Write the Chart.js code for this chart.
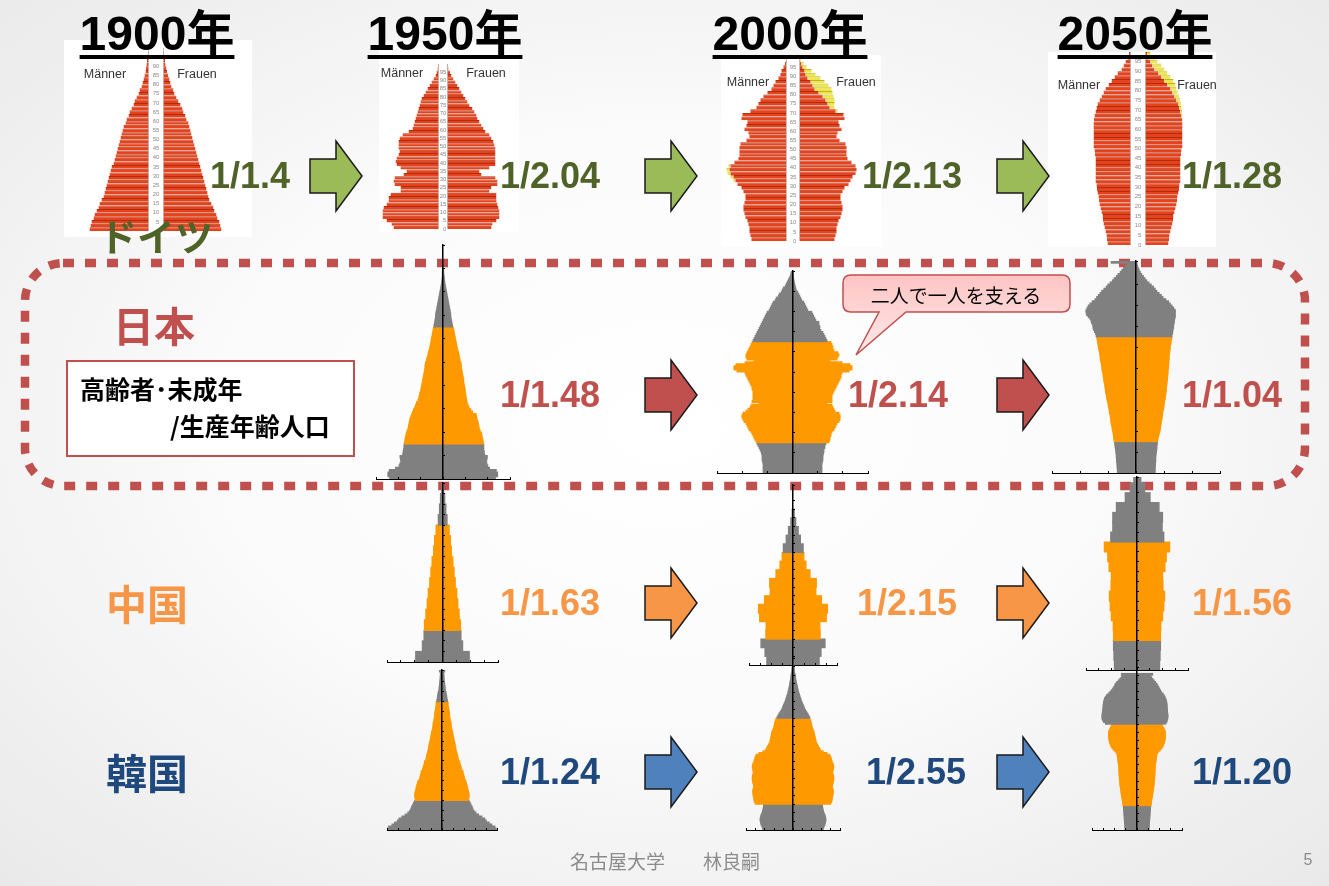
<!DOCTYPE html>
<html><head><meta charset="utf-8">
<script src="https://cdn.jsdelivr.net/npm/chart.js@4.4.1/dist/chart.umd.min.js"></script>
<style>
html,body{margin:0;padding:0;background:#fff;}
#slide{position:relative;width:1329px;height:886px;overflow:hidden;
 background:radial-gradient(ellipse 72% 72% at 50% 48%,#ffffff 0%,#fbfbfb 45%,#e9e9e9 100%);
 font-family:"Liberation Sans",Arial,sans-serif;}
.abs{position:absolute;white-space:nowrap;line-height:1;}
.c{transform:translate(-50%,-50%);}
.l{transform:translateY(-50%);}
.title{font-size:48px;font-weight:bold;color:#000;text-decoration:underline;text-decoration-thickness:4px;text-underline-offset:5px;font-family:"Liberation Sans","Noto Sans CJK JP",sans-serif;}
.ratio{font-size:36px;font-weight:bold;font-family:"Liberation Sans",Arial,sans-serif;}
.jp{font-family:"Noto Sans CJK JP",sans-serif;}
.big{font-size:41px;font-weight:bold;}
.mf{font-size:12.5px;color:#333;font-family:"Liberation Sans",Arial,sans-serif;}
.wb{position:absolute;background:#fff;}
</style></head><body>
<div id="slide">
 <div class="wb" style="left:64px;top:40px;width:188px;height:197px"></div>
 <div class="wb" style="left:379px;top:42px;width:140px;height:190px"></div>
 <div class="wb" style="left:721px;top:55px;width:160px;height:192px"></div>
 <div class="wb" style="left:1048px;top:52px;width:168px;height:195px"></div>

 <svg class="abs" style="left:0;top:0" width="1329" height="886">
  <rect x="25" y="263" width="1280" height="223" rx="38" ry="38" fill="none" stroke="#C0504D" stroke-width="8.5" stroke-dasharray="11 11"/>
  <g stroke="#1a1a1a" stroke-width="1.5" stroke-linejoin="miter">
   <polygon fill="#9BBB59" points="310,159 336,159 336,141 362,176 336,211 336,193 310,193"/>
   <polygon fill="#9BBB59" points="645,159 671,159 671,141 697,176 671,211 671,193 645,193"/>
   <polygon fill="#9BBB59" points="997,159 1023,159 1023,141 1049,176 1023,211 1023,193 997,193"/>
   <polygon fill="#C0504D" points="645,378 671,378 671,360 697,395 671,430 671,412 645,412"/>
   <polygon fill="#C0504D" points="997,378 1023,378 1023,360 1049,395 1023,430 1023,412 997,412"/>
   <polygon fill="#F79646" points="645,586 671,586 671,568 697,603 671,638 671,620 645,620"/>
   <polygon fill="#F79646" points="997,586 1023,586 1023,568 1049,603 1023,638 1023,620 997,620"/>
   <polygon fill="#4F81BD" points="645,755 671,755 671,737 697,772 671,807 671,789 645,789"/>
   <polygon fill="#4F81BD" points="997,755 1023,755 1023,737 1049,772 1023,807 1023,789 997,789"/>
  </g>
 </svg>

 <div id="charts" class="abs" style="left:0;top:0;width:1329px;height:886px"></div>

 <svg class="abs" style="left:0;top:0" width="1329" height="886">
  <defs><linearGradient id="pk" x1="0" y1="0" x2="0" y2="1"><stop offset="0" stop-color="#FFC4C4"/><stop offset="1" stop-color="#FFEAEA"/></linearGradient></defs>
  <path d="M851 275 H1062 Q1070 275 1070 283 V304 Q1070 312 1062 312 H906 L856 355 L879 312 H851 Q843 312 843 304 V283 Q843 275 851 275 Z" fill="url(#pk)" stroke="#C0504D" stroke-width="1.5"/>
 </svg>

 <div class="abs c title" style="left:157px;top:34px">1900年</div>
 <div class="abs c title" style="left:445px;top:34px">1950年</div>
 <div class="abs c title" style="left:790px;top:34px">2000年</div>
 <div class="abs c title" style="left:1135px;top:34px">2050年</div>

 <div class="abs c mf" style="left:105px;top:74px">Männer</div>
 <div class="abs c mf" style="left:197px;top:74px">Frauen</div>
 <div class="abs c mf" style="left:402px;top:73px">Männer</div>
 <div class="abs c mf" style="left:486px;top:73px">Frauen</div>
 <div class="abs c mf" style="left:748px;top:82px">Männer</div>
 <div class="abs c mf" style="left:856px;top:82px">Frauen</div>
 <div class="abs c mf" style="left:1079px;top:85px">Männer</div>
 <div class="abs c mf" style="left:1197px;top:85px">Frauen</div>

 <div class="abs l ratio" style="left:210px;top:176px;color:#4F6228">1/1.4</div>
 <div class="abs l ratio" style="left:500px;top:176px;color:#4F6228">1/2.04</div>
 <div class="abs l ratio" style="left:862px;top:176px;color:#4F6228">1/2.13</div>
 <div class="abs l ratio" style="left:1182px;top:176px;color:#4F6228">1/1.28</div>
 <div class="abs l ratio" style="left:500px;top:395px;color:#C0504D">1/1.48</div>
 <div class="abs l ratio" style="left:848px;top:395px;color:#C0504D">1/2.14</div>
 <div class="abs l ratio" style="left:1182px;top:395px;color:#C0504D">1/1.04</div>
 <div class="abs l ratio" style="left:500px;top:603px;color:#F79646">1/1.63</div>
 <div class="abs l ratio" style="left:857px;top:603px;color:#F79646">1/2.15</div>
 <div class="abs l ratio" style="left:1192px;top:603px;color:#F79646">1/1.56</div>
 <div class="abs l ratio" style="left:500px;top:772px;color:#1F497D">1/1.24</div>
 <div class="abs l ratio" style="left:866px;top:772px;color:#1F497D">1/2.55</div>
 <div class="abs l ratio" style="left:1192px;top:772px;color:#1F497D">1/1.20</div>

 <div class="abs c jp" style="left:156px;top:235px;font-size:38px;font-weight:bold;color:#4F6228">ドイツ</div>
 <div class="abs c jp big" style="left:154px;top:324px;color:#C0504D">日本</div>
 <div class="abs c jp big" style="left:147px;top:602px;color:#F79646">中国</div>
 <div class="abs c jp big" style="left:147px;top:771px;color:#1F497D">韓国</div>

 <div class="abs" style="left:66px;top:360px;width:285px;height:93px;background:#fff;border:2px solid #C0504D;"></div>
 <div class="abs l jp" style="left:80px;top:388px;font-size:25px;font-weight:bold;color:#000">高齢者･未成年</div>
 <div class="abs l jp" style="left:170px;top:425px;font-size:25px;font-weight:bold;color:#000">/生産年齢人口</div>

 <div class="abs c jp" style="left:956px;top:294px;font-size:19px;color:#000">二人で一人を支える</div>

 <div class="abs c jp" style="left:665px;top:860px;font-size:19px;color:#8c8c8c">名古屋大学　　林良嗣</div>
 <div class="abs c" style="left:1308px;top:860px;font-size:16px;color:#8c8c8c">5</div>
</div>

<script>
// ---------- categories ----------
const deAgeGroups = [0,2,4,6,8,10,12,14,16,18,20,22,24,26,28,30,32,34,36,38,40,42,44,46,48,50,52,54,56,58,60,62,64,66,68,70,72,74,76,78,80,82,84,86,88,90,92,94,96,98];
const singleAges = Array.from({length: 101}, (_, i) => i);
const fiveYearAges = [0,5,10,15,20,25,30,35,40,45,50,55,60,65,70,75,80,85,90,95];

// ---------- Germany (per-year values, 2-year groups) ----------
const de1900Male   = [59,58,57,55,54,52,50,49,47,45,44,43,42,41,40,39,38,37,35,34,33,32,31,30,29,28,27,26,25,23,22,20,19,17,15,14,12,10,9,7,6,5,4,3,2.5,2,1.5,1,0.6,0.3];
const de1900Female = [58,57,56,54,53,51,50,48,46,45,44,43,42,41,40,39,38,37,36,35,34,33,32,31,30,29,28,27,26,25,23,22,20,19,17,15,13,11,10,8,7,6,4.5,3.5,3,2,1.5,1,0.6,0.3];
const de1950Male   = [45,47,52,56,56,56,55,52,50,50,48,38,38,44,45,44,35,32,38,42,43,42,40,39,40,40,40,39,36,30,26,25,24,23,22,21,20,19,18,17,15,13,11,9,7,5,3,2,1,0.5];
const de1950Female = [44,45,49,52,52,52,51,50,49,49,49,42,44,50,50,48,34,32,42,48,48,48,48,48,48,47,46,44,42,38,36,34,32,30,29,27,25,22,20,18,16,14,12,10,8,6,4,2.5,1,0.5];
const de2000Male   = [35,36,37,37,38,39,41,42,43,43,42,41,41,43,45,49,53,56,59,60,58,52,48,47,47,47,46,40,37,38,42,40,39,45,44,36,30,28,26,23,19,15,13,11,8,6,5,3,1.5,0.5];
const de2000Female = [35,36,37,37,38,39,41,42,43,43,42,41,41,43,45,49,51,53,56,57,56,52,48,47,47,47,46,40,37,38,42,40,39,45,44,38,35,35,35,34,33,32,29,25,21,16,12,7,4,1.5];
const de2050Male   = [23,23.5,24,25,26,27,27.5,28,29,30,31,31.5,32,33,33.5,34,35,35,35,35,35,35,35,35.5,36,37,37,37,37,37,37,37,36.5,36,35,34,33,31,29,27,25,22,19,16,13,9,7,5,3,1.5];
const de2050Female = [23,23.5,24,25,26,27,27.5,28,29,30,31,31.5,32,33,33.5,34,35,35,35,35,35,35,35,35.5,36,37,37,37,37,37,37,37,37,37,36.5,36,35.5,34.5,33.5,32,31,30,28,25,22,19,16,12,9,5];

// ---------- Japan (万人, single years; left / right side) ----------
const jp1950Left  = [119,123,123,120,106,98,96,94,95,96,90,89,88,87,87,86,85,84,83,82,80,78,77,76,75,74,72,70,68,66,63,61,59,56,54,53,52,50,49,48,47,46,45,44,43,42,41,40,40,39,37,36,34,33,32,30,29,28,27,26,25,24,23,22,21,20,19,18,17,16.5,16,15,14,13,12,11,10,9,8,7,6,5,4,3,2.5,1.8,1.2,0.8,0.5,0.3];
const jp1950Right = [117,122,122,119,104,100,98,97,98,99,93,92,91,91,91,90,89,88,87,86,83,81,80,79,78,76,75,74,66,62,58,56,54,53,52,51,50,50,49,48,47,46,46,45,44,43,42,41,41,40,38,37,36,35,34,32,31,30,29,28,27,26,25,24,23,21,20,19,18,17,17,16,15,14,13,12,11,10,9,8,7,6,5,4,3.5,3,2.2,1.5,1,0.6];
const jp2000Left  = [29,29,29,29,29,29.5,30,30,30,30.5,31,32,33,34,35,36,37,38,39,40,41,43,44,45,46,48,49,50,50,49,46,44,42,41,33,40,39,39,39,39,39,40,40,41,42,43,44,45,46,47,55,58,58,56,47,38,45,46,46,45,44,43,42,41,40,39,38,37,36,35,34,33,32,31,30,29,28,27,26,25,23,22,21,20,19,17,16,14,13,11,10,9,7,6,5,4,3,2,1.5,1];
const jp2000Right = [29,29,29,29,29,29.5,30,30,30,30.5,31,31,32,32,33,36,37,37,38,38,39,41,42,43,44,46,47,47,47,46,42,41,40,39,34,39,39,39,39,40,41,42,43,44,45,46,47,48,48,49,56,59,59,57,49,37,44,45,46,45,41,40,40,39,38,34,33,32,31,30,28,27,27,26,26,23,22,21,20,19,15,14,13,12,11,9,8,7,6,5,3.5,3,2.5,2,1.6,1.2,0.9,0.6,0.4,0.2];
const jp2050Left  = [33,33,33.5,33.5,34,34.5,34.5,35,35,35.5,36,36.5,37,37.5,38,39,39.5,40,40.5,41,42,42.5,43,44,44.5,45,45.5,46,47,47.5,48,49,49.5,50,51,52,52.5,53,54,54.5,55,55.5,56,57,57.5,58,58.5,59,60,60.5,61,61.5,62,63,63.5,64,64.5,65,66,66.5,67,68,68.5,69,70,71,72,74,76,76.5,77,79,80,82,85,88,89,89,87,85,82,78,73,70,67,64,61,57,53,50,46,42,39,35,32,28,25,22,19,16,44];
const jp2050Right = [34,34,34,34.5,34.5,35,35,35,35.5,36,36.5,37,37,37.5,38,38.5,39,40,41,42,43,43.5,44,44.5,45,46,46.5,47,47.5,48,49,49.5,50,50.5,51,52,52.5,53,53.5,54,54,54.5,55,55.5,56,56,56.5,57,57,57.5,58,58,58.5,58.5,59,59,59.5,60,60.5,61,61,62,62.5,63,64,64,65,65.5,66,67,67,68,68.5,69,70,70,70,70,67,64,61,58,53,48,45,41,37,34,31,27,23,19,16,13,10,7.5,5.5,4,2.5,1.5,1];

// ---------- China (百万人, 5-year groups) ----------
const cn1950Left  = [38.6,29,26.6,26,24,22,20.5,18.4,16.7,15,12.8,11.4,9.2,6,4.3,2.9,1.2];
const cn1950Right = [38.6,29,26.6,26,24,22,20.5,18.4,16.7,15,12.8,11.4,9.6,6.5,4.8,3.2,1.5];
const cn2000Left  = [47.6,50.9,58.2,49.4,48.8,60.6,62.7,51.8,41.5,42.4,30.9,23.6,19.7,17.6,12.4,8.2,3.9,1.5];
const cn2000Right = [47.6,50.9,58.2,49.4,48.8,60.6,62.7,51.8,41.5,42.4,30.9,23.6,19.7,18.5,13.5,9.5,5,2.2];
const cn2050Left  = [35.4,36.2,36.8,36.8,37.3,40.2,42,43.3,40.7,40.2,43.8,45.9,51.2,41.2,38,38,32.3,18.4,10.5,5];
const cn2050Right = [35.4,36.2,36.8,36.8,37.3,40.2,42,43.3,40.7,40.2,43.8,45.9,51.2,42,39.5,40,34.5,20.5,12,6];

// ---------- Korea (千人, single years) ----------
const kr1950Left  = [248,242,227,215,202,195,182,167,155,147,141,138,133,129,124,120,123,124,123,121,118,117,114,112,109,103,100,98,95,94,88,86,83,80,79,73,71,70,67,65,62,61,59,58,56,53,52,50,48,47,44,42,41,40,39,36,35,33,33,32,30,29,27,26,26,23,21,20,18,17,14,13,12,11,10,9,8,7.5,7,6,11];
const kr1950Right = [246,240,226,214,201,194,181,166,154,146,140,137,132,128,123,119,122,123,122,120,117,116,113,111,108,104,101,99,96,95,89,87,84,81,80,74,72,71,68,66,63,62,60,59,57,54,53,51,49,48,45,43,42,41,40,37,36,34,34,33,31,30,28,27,27,24,22,21,19,18,15,14,13,12,11,10,9,8.5,8,7,12];
const kr2000Left  = [160,162,166,170,172,174,174,172,170,166,162,160,158,156,156,200,205,207,208,210,212,213,214,212,210,208,210,213,215,216,216,215,212,210,212,214,216,215,212,208,205,203,200,195,180,160,145,140,135,130,125,122,120,118,116,114,112,110,105,102,100,98,96,94,90,84,79,74,68,62,57,54,50,46,42,39,36,33,30,27,25,23,21,19,17,16,14,12,11,10,9,7,6,5,4,3.5,2.5,2,1.5,1];
const kr2000Right = [160,162,166,170,172,174,174,172,170,166,162,160,158,156,156,200,205,207,208,210,212,213,214,212,210,208,210,213,215,216,216,215,212,210,212,214,216,215,212,208,205,203,200,195,180,160,145,140,135,130,125,122,120,118,116,114,112,110,105,102,100,98,96,94,90,88,83,78,72,66,61,58,54,50,46,43,40,37,34,31,28,26,24,22,20,18,16,14,13,12,10,8,7,6,5,4,3,2.5,2,1.5];
const kr2050Left  = [52,53,54,54,55,55,56,56,57,57,58,58,59,59,60,62,63,64,65,66,68,69,70,71,72,73,74,75,76,76,77,78,78,79,79,80,80,80,81,81,82,83,84,85,86,87,88,92,98,105,111,115,118,121,123,124,125,126,126,126,125,122,118,114,111,140,148,152,155,155,155,154,153,152,151,150,150,149,148,146,144,140,135,128,120,114,108,103,99,96,90,83,76,70,64,69];
const kr2050Right = [52,53,54,54,55,55,56,56,57,57,58,58,59,59,60,62,63,64,65,66,68,69,70,71,72,73,74,75,76,76,77,78,78,79,79,80,80,80,81,81,82,83,84,85,86,87,88,92,98,105,111,115,118,121,123,124,125,126,126,126,125,122,118,114,111,128,132,134,136,137,137,136,135,135,134,134,133,133,131,130,127,124,120,115,108,104,100,96,92,88,82,76,70,64,58,69];

// ---------- drawing ----------
const GRAY = '#808080', ORANGE = '#FF9900';
const DE_RED = '#E5431C', DE_RED_LINE = '#B02C12', DE_YEL = '#EEE64A', DE_YEL_LINE = '#BDB22A';
const PAD = 6;
const host = document.getElementById('charts');

function placeCanvas(left, top, w, h) {
  const c = document.createElement('canvas');
  c.width = w; c.height = h;
  c.style.cssText = 'position:absolute;left:' + left + 'px;top:' + top + 'px;width:' + w + 'px;height:' + h + 'px;';
  host.appendChild(c);
  return c;
}
function baseOpts(xScale, yScale) {
  return {
    indexAxis: 'y', responsive: false, maintainAspectRatio: false, animation: false,
    devicePixelRatio: 1, events: [], layout: {padding: PAD},
    plugins: {legend: {display: false}, tooltip: {enabled: false}},
    scales: {x: xScale, y: yScale}
  };
}
function barDs(data, bg, extra) {
  return Object.assign({data: data, backgroundColor: bg, grouped: false, barPercentage: 1, categoryPercentage: 1, borderWidth: 0}, extra || {});
}

function asiaPyramid(c) {
  const half = c.tickPx * c.nTicks;
  const L = Math.round(c.cx - half), R = Math.round(c.cx + half);
  const T = Math.round(c.y0 - c.yMax * c.ppy), B = Math.round(c.y0);
  const cv = placeCanvas(L - PAD, T - PAD, R - L + 2 * PAD, B - T + 2 * PAD);
  const vmax = c.tickVal * c.nTicks;
  const colorOf = a => (a < 15 || a >= 65) ? GRAY : ORANGE;
  const leftData = c.left.map((v, i) => ({x: [-v, 0], y: c.ages[i] + c.step / 2}));
  const rightData = c.right.map((v, i) => ({x: [0, v], y: c.ages[i] + c.step / 2}));
  new Chart(cv, {
    type: 'bar',
    data: {datasets: [
      barDs(leftData, c.left.map((v, i) => colorOf(c.ages[i])), {inflateAmount: 0.6}),
      barDs(rightData, c.right.map((v, i) => colorOf(c.ages[i])), {inflateAmount: 0.6})
    ]},
    options: baseOpts(
      {type: 'linear', min: -vmax, max: vmax, position: {y: 0},
       ticks: {display: false, stepSize: c.tickVal},
       grid: {drawOnChartArea: false, drawTicks: true, tickLength: -3, color: '#000', tickColor: '#000', lineWidth: 1, z: 1},
       border: {display: true, color: '#000', width: 1, z: 1}},
      {type: 'linear', min: 0, max: c.yMax, position: {x: 0}, offset: false,
       ticks: {display: false, stepSize: c.yStep},
       grid: {offset: false, drawOnChartArea: false, drawTicks: true, tickLength: -3, color: '#000', tickColor: '#000', lineWidth: 1, z: 1},
       border: {display: true, color: '#000', width: 1.5, z: 1}}
    )
  });
}

function germanPyramid(c) {
  const L = Math.round(c.cx - c.range), R = Math.round(c.cx + c.range);
  const T = Math.round(c.y0 - 100 * c.ppy), B = Math.round(c.y0);
  const cv = placeCanvas(L - PAD, T - PAD, R - L + 2 * PAD, B - T + 2 * PAD);
  const g = c.gap;
  const mRed = [], fRed = [], mYel = [], fYel = [];
  c.male.forEach((m, i) => {
    const f = c.female[i], y = deAgeGroups[i] + 1;
    const mr = c.excess ? Math.min(m, f) : m;
    const fr = c.excess ? Math.min(m, f) : f;
    mRed.push({x: [-(g + mr), -g], y: y});
    fRed.push({x: [g, g + fr], y: y});
    if (c.excess && m > f) mYel.push({x: [-(g + m), -(g + f)], y: y});
    if (c.excess && f > m) fYel.push({x: [g + m, g + f], y: y});
  });
  const stripe = (line) => ({borderColor: line, borderWidth: {top: 1, bottom: 0, left: 0, right: 0}, borderSkipped: false, inflateAmount: 0});
  new Chart(cv, {
    type: 'bar',
    data: {datasets: [
      barDs(mRed, DE_RED, stripe(DE_RED_LINE)),
      barDs(fRed, DE_RED, stripe(DE_RED_LINE)),
      barDs(mYel, DE_YEL, stripe(DE_YEL_LINE)),
      barDs(fYel, DE_YEL, stripe(DE_YEL_LINE))
    ]},
    options: baseOpts(
      {type: 'linear', min: -c.range, max: c.range, position: {y: 0},
       afterBuildTicks: s => { s.ticks = [{value: -g}, {value: g}]; },
       ticks: {display: false},
       grid: {drawOnChartArea: true, drawTicks: false, color: '#c9c9c9', lineWidth: 1},
       border: {display: false}},
      {type: 'linear', min: 0, max: 100, position: {x: 3.3}, offset: false,
       ticks: {display: true, stepSize: 5, autoSkip: false, padding: 0, color: '#8a8a8a', font: {size: 6}, callback: v => v >= 100 ? '' : String(v)},
       grid: {display: false}, border: {display: false}}
    )
  });
}

germanPyramid({cx: 155.8, gap: 7.5, y0: 231, ppy: 1.83, range: 72, male: de1900Male, female: de1900Female, excess: false});
germanPyramid({cx: 442.8, gap: 4.5, y0: 229, ppy: 1.65, range: 64, male: de1950Male, female: de1950Female, excess: false});
germanPyramid({cx: 793.3, gap: 6.7, y0: 241, ppy: 1.83, range: 72, male: de2000Male, female: de2000Female, excess: true});
germanPyramid({cx: 1137.5, gap: 7.5, y0: 245, ppy: 1.93, range: 52, male: de2050Male, female: de2050Female, excess: true});

asiaPyramid({cx: 443, y0: 479, ppy: 2.34, yMax: 100, tickPx: 22.4, nTicks: 3, tickVal: 50, step: 1, yStep: 10, ages: singleAges, left: jp1950Left, right: jp1950Right});
asiaPyramid({cx: 792.3, y0: 473, ppy: 2.02, yMax: 100, tickPx: 25.2, nTicks: 3, tickVal: 25, step: 1, yStep: 10, ages: singleAges, left: jp2000Left, right: jp2000Right});
asiaPyramid({cx: 1136, y0: 473, ppy: 2.1, yMax: 101, tickPx: 28, nTicks: 3, tickVal: 50, step: 1, yStep: 10, ages: singleAges, left: jp2050Left, right: jp2050Right});

asiaPyramid({cx: 442.3, y0: 661.7, ppy: 2.1, yMax: 85, tickPx: 13.8, nTicks: 4, tickVal: 20, step: 5, yStep: 5, ages: fiveYearAges, left: cn1950Left, right: cn1950Right});
asiaPyramid({cx: 793.3, y0: 665, ppy: 1.73, yMax: 104, tickPx: 11, nTicks: 4, tickVal: 20, step: 5, yStep: 5, ages: fiveYearAges, left: cn2000Left, right: cn2000Right});
asiaPyramid({cx: 1136.7, y0: 670, ppy: 1.97, yMax: 98, tickPx: 12.7, nTicks: 4, tickVal: 20, step: 5, yStep: 5, ages: fiveYearAges, left: cn2050Left, right: cn2050Right});

asiaPyramid({cx: 442.3, y0: 830, ppy: 1.98, yMax: 81, tickPx: 11, nTicks: 5, tickVal: 50, step: 1, yStep: 5, ages: singleAges, left: kr1950Left, right: kr1950Right});
asiaPyramid({cx: 793.3, y0: 830, ppy: 1.72, yMax: 100, tickPx: 9.4, nTicks: 5, tickVal: 50, step: 1, yStep: 5, ages: singleAges, left: kr2000Left, right: kr2000Right});
asiaPyramid({cx: 1136.7, y0: 830, ppy: 1.63, yMax: 100, tickPx: 11.3, nTicks: 4, tickVal: 50, step: 1, yStep: 5, ages: singleAges, left: kr2050Left, right: kr2050Right});
</script>
</body></html>
